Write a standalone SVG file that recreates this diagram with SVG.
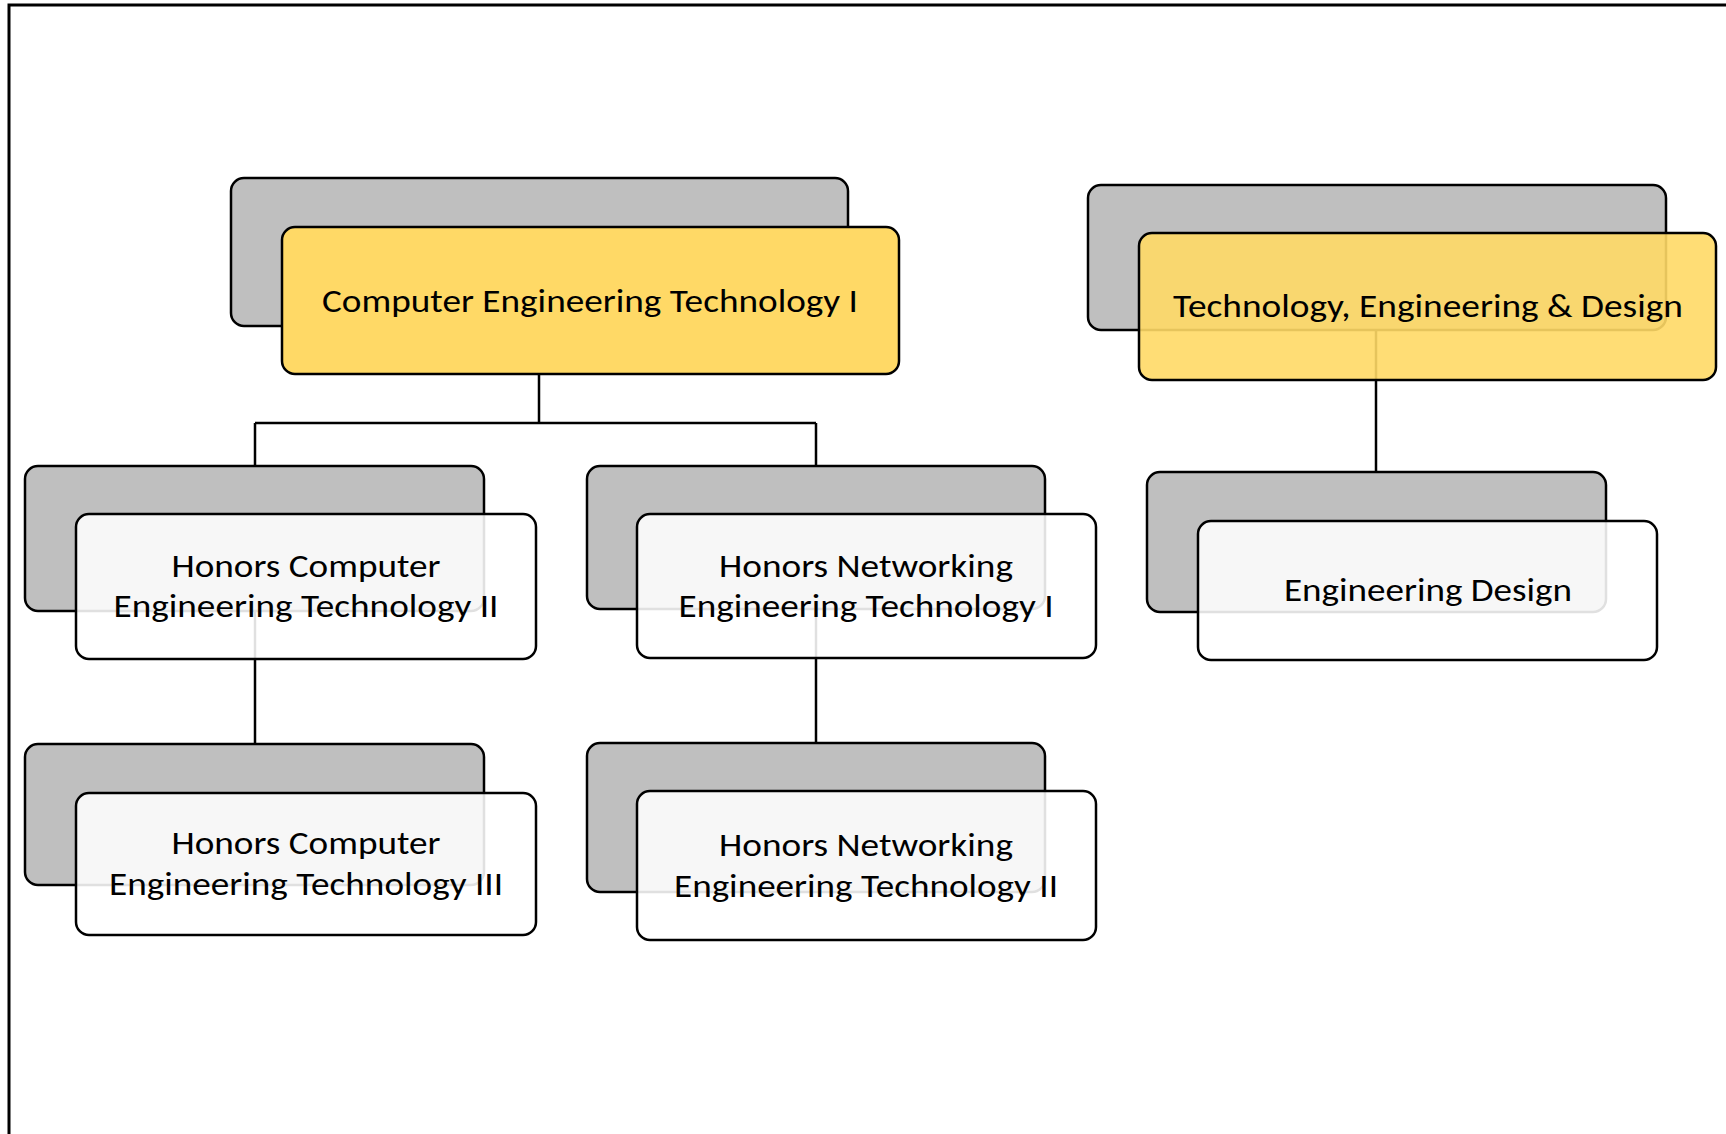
<svg xmlns="http://www.w3.org/2000/svg" width="1726" height="1134" viewBox="0 0 1726 1134">
  <style>
    .back { fill: #BFBFBF; stroke: #000; stroke-width: 2.5; }
    .front-y { fill: #FFD966; stroke: #000; stroke-width: 2.5; }
    .front-yt { fill: #FFD966; fill-opacity: 0.9; stroke: #000; stroke-width: 2.5; }
    .front-w { fill: #FFFFFF; fill-opacity: 0.88; stroke: #000; stroke-width: 2.5; }
    .lbl { font-family: Carlito, Calibri, Lato, "Open Sans", sans-serif; font-size: 33px; fill: #000; text-anchor: middle; }
    .conn { fill: none; stroke: #000; stroke-width: 2.5; }
    .frame { fill: none; stroke: #000; stroke-width: 3; }
  </style>
  <rect x="0" y="0" width="1726" height="1134" fill="#FFFFFF"/>
  <path class="frame" d="M9,1134 V5 H1726"/>

  <g id="connectors">
    <path class="conn" d="M539,326 V423 M255,423 H816 M255,423 V466 M816,423 V466"/>
    <path class="conn" d="M255,611 V744"/>
    <path class="conn" d="M816,609 V743"/>
    <path class="conn" d="M1376,330 V472"/>
  </g>

  <g id="node-cet1">
    <rect class="back" x="231" y="178" width="617" height="148" rx="13"/>
    <rect class="front-y" x="282" y="227" width="617" height="147" rx="13"/>
    <text class="lbl" x="590" y="312" textLength="536" lengthAdjust="spacingAndGlyphs">Computer Engineering Technology I</text>
  </g>

  <g id="node-ted">
    <rect class="back" x="1088" y="185" width="578" height="145" rx="13"/>
    <rect class="front-yt" x="1139" y="233" width="577" height="147" rx="13"/>
    <text class="lbl" x="1428" y="317" textLength="510" lengthAdjust="spacingAndGlyphs">Technology, Engineering &amp; Design</text>
  </g>

  <g id="node-hcet2">
    <rect class="back" x="25" y="466" width="459" height="145" rx="13"/>
    <rect class="front-w" x="76" y="514" width="460" height="145" rx="13"/>
    <text class="lbl" x="306" y="577" textLength="269" lengthAdjust="spacingAndGlyphs">Honors Computer</text>
    <text class="lbl" x="306" y="617" textLength="385" lengthAdjust="spacingAndGlyphs">Engineering Technology II</text>
  </g>

  <g id="node-hnet1">
    <rect class="back" x="587" y="466" width="458" height="143" rx="13"/>
    <rect class="front-w" x="637" y="514" width="459" height="144" rx="13"/>
    <text class="lbl" x="866" y="577" textLength="294" lengthAdjust="spacingAndGlyphs">Honors Networking</text>
    <text class="lbl" x="866" y="617" textLength="375" lengthAdjust="spacingAndGlyphs">Engineering Technology I</text>
  </g>

  <g id="node-hcet3">
    <rect class="back" x="25" y="744" width="459" height="141" rx="13"/>
    <rect class="front-w" x="76" y="793" width="460" height="142" rx="13"/>
    <text class="lbl" x="306" y="854" textLength="269" lengthAdjust="spacingAndGlyphs">Honors Computer</text>
    <text class="lbl" x="306" y="895" textLength="394" lengthAdjust="spacingAndGlyphs">Engineering Technology III</text>
  </g>

  <g id="node-hnet2">
    <rect class="back" x="587" y="743" width="458" height="149" rx="13"/>
    <rect class="front-w" x="637" y="791" width="459" height="149" rx="13"/>
    <text class="lbl" x="866" y="856" textLength="294" lengthAdjust="spacingAndGlyphs">Honors Networking</text>
    <text class="lbl" x="866" y="897" textLength="384" lengthAdjust="spacingAndGlyphs">Engineering Technology II</text>
  </g>

  <g id="node-ed">
    <rect class="back" x="1147" y="472" width="459" height="140" rx="13"/>
    <rect class="front-w" x="1198" y="521" width="459" height="139" rx="13"/>
    <text class="lbl" x="1428" y="601" textLength="288" lengthAdjust="spacingAndGlyphs">Engineering Design</text>
  </g>
</svg>
